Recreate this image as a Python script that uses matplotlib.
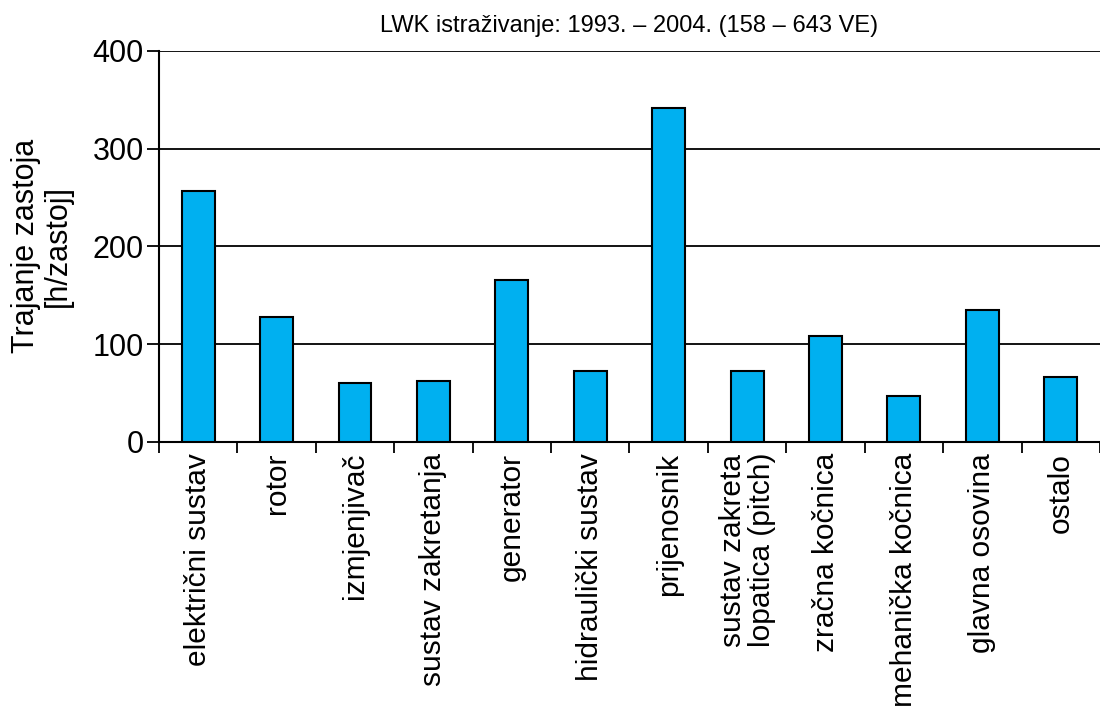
import matplotlib.pyplot as plt
import numpy as np

plt.rcParams['font.family'] = ['Liberation Sans', 'DejaVu Sans']

kategorije = ["električni sustav", "rotor", "izmjenjivač", "sustav zakretanja",
              "generator", "hidraulički sustav", "prijenosnik",
              "sustav zakreta\nlopatica (pitch)", "zračna kočnica",
              "mehanička kočnica", "glavna osovina", "ostalo"]
trajanje = [257, 128, 60, 62, 166, 72, 342, 72, 108, 47, 135, 66]

naslov = "LWK istraživanje: 1993. – 2004. (158 – 643 VE)"
y_oznaka = "Trajanje zastoja\n[h/zastoj]"
y_ticks = [0, 100, 200, 300, 400]

fig = plt.figure(figsize=(11, 7.26), dpi=100)
ax = fig.add_axes([0.1445, 0.3916, 0.8555, 0.5382])

x = np.arange(len(kategorije))
ax.bar(x, trajanje, width=0.42, color="#00B0F0", edgecolor="black",
       linewidth=1.5, zorder=3)

ax.set_xlim(-0.5, len(kategorije) - 0.5)
ax.set_ylim(0, 400)
ax.set_yticks(y_ticks)
ax.yaxis.grid(True, color="black", linewidth=1.3, zorder=0)

# granice kategorija kao glavni ticks, nazivi kao minor
ax.set_xticks(np.arange(len(kategorije) + 1) - 0.5)
ax.set_xticklabels([])
ax.set_xticks(x, minor=True)
ax.set_xticklabels(kategorije, minor=True, rotation=90, fontsize=21.5,
                   ha="center", va="top", linespacing=1.05)
ax.tick_params(axis="x", which="minor", length=0, pad=8)
ax.tick_params(axis="x", which="major", length=8, width=1.3, direction="out")
ax.tick_params(axis="y", length=9, width=1.3, labelsize=22, pad=2)

for s in ["top", "right"]:
    ax.spines[s].set_visible(False)
for s in ["left", "bottom"]:
    ax.spines[s].set_linewidth(1.5)

ax.set_ylabel(y_oznaka, fontsize=22, linespacing=1.1, labelpad=14)
ax.set_title(naslov, fontsize=17, pad=14)

fig.savefig("out.png", dpi=100)
